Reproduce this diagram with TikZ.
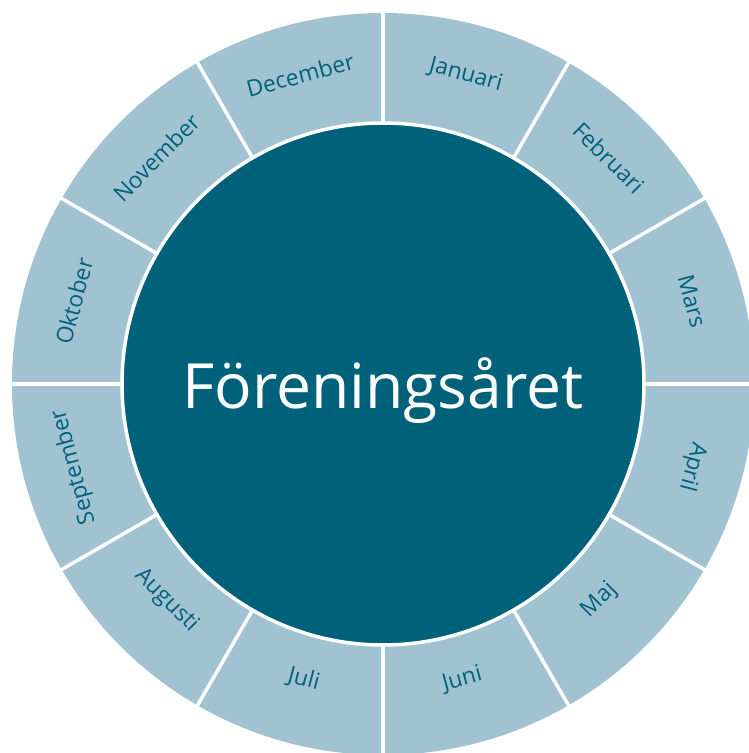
\documentclass[tikz,border=0pt]{standalone}
\usepackage{fontspec}
\setmainfont{Open Sans}
\usepackage{tikz}
\usetikzlibrary{positioning}
\definecolor{ringblue}{RGB}{161, 195, 209}
\definecolor{hubteal}{RGB}{0, 98, 122}

\tikzset{
  month/.style={text=hubteal, font=\fontsize{13}{15}\selectfont, inner sep=0pt},
  divider/.style={draw=white, line width=2pt},
}

\begin{document}
\begin{tikzpicture}[x=0.02cm, y=0.02cm]
  \useasboundingbox (-383,-369) rectangle (365,384);
  % Month ring
  \fill[ringblue] (0,0) circle (371);
  \draw[divider, fill=hubteal] (0,0) circle (261);
  \foreach \a in {0,30,...,330} {
    \draw[divider] (\a:262) -- (\a:380);
  }
  % Month labels: name/angle/radius/rotation
  \foreach \m/\a/\r/\rot in {Januari/75/320/-15, Februari/45/320/-45,
      Mars/15/320/-75, April/-15/320/-105, Maj/-45/306/45, Juni/-75/306/15,
      Juli/-105/306/-15, Augusti/-135/306/-45, September/195/320/105,
      Oktober/165/320/75, November/135/320/45, December/105/320/15} {
    \node[month, rotate=\rot] (m-\m) at (\a:\r) {\m};
  }
  % Hub title
  \node[anchor=base, text=white, font=\fontsize{35.5}{40}\selectfont] (hub) at (0,-25) {Föreningsåret};
\end{tikzpicture}
\end{document}
